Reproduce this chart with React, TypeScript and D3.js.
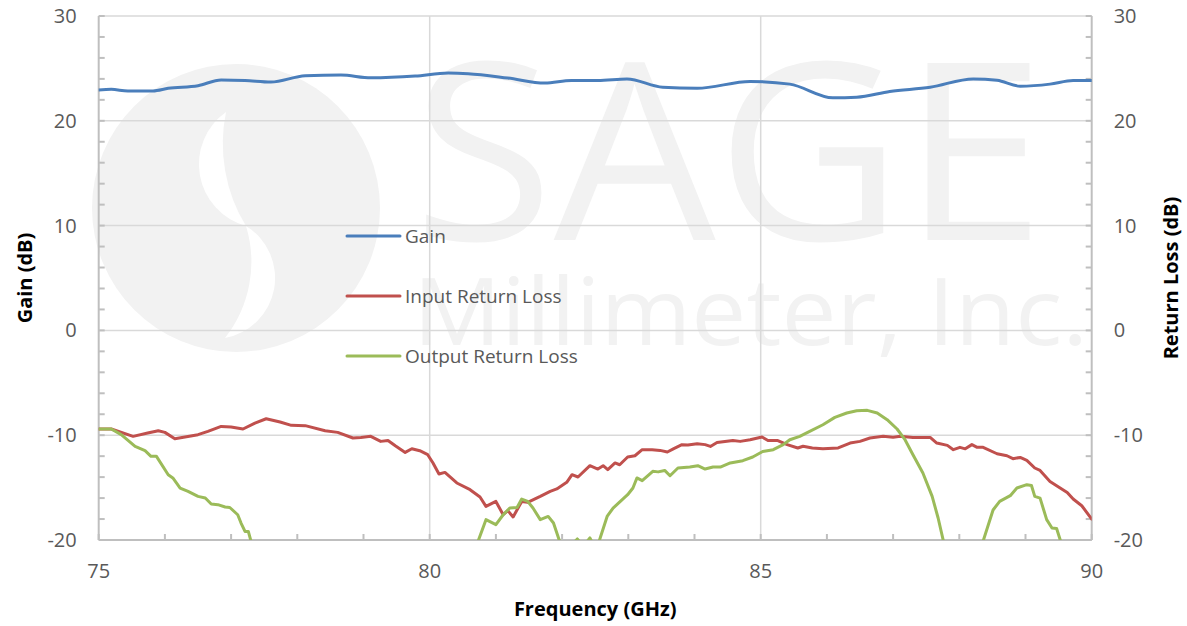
import React from 'react';
import * as d3 from 'd3';

// ---- data ----
const gainFreq = [75.0, 75.19, 75.44, 75.82, 76.05, 76.5, 76.85, 77.21, 77.6, 78.12, 78.66, 79.11, 79.78, 80.28, 80.58, 81.18, 81.74, 82.14, 82.54, 82.98, 83.52, 84.04, 84.84, 85.44, 86.09, 86.45, 86.95, 87.56, 88.21, 88.57, 88.92, 89.37, 89.72, 90.0];
const gainDb = [22.95, 23.0, 22.85, 22.85, 23.1, 23.35, 23.9, 23.85, 23.7, 24.3, 24.37, 24.1, 24.27, 24.56, 24.5, 24.08, 23.6, 23.85, 23.85, 23.99, 23.2, 23.1, 23.76, 23.5, 22.2, 22.25, 22.8, 23.2, 24.0, 23.86, 23.3, 23.5, 23.85, 23.85];

const irlFreq = [75.0, 75.19, 75.52, 75.74, 75.9, 76.0, 76.15, 76.5, 76.65, 76.85, 77.0, 77.18, 77.36, 77.53, 77.74, 77.91, 78.12, 78.42, 78.61, 78.84, 78.96, 79.11, 79.26, 79.37, 79.48, 79.63, 79.73, 79.85, 79.97, 80.05, 80.14, 80.23, 80.41, 80.61, 80.76, 80.85, 81.0, 81.11, 81.18, 81.26, 81.39, 81.48, 81.67, 81.82, 81.92, 82.07, 82.15, 82.24, 82.42, 82.54, 82.62, 82.69, 82.8, 82.87, 82.99, 83.1, 83.21, 83.36, 83.48, 83.59, 83.68, 83.81, 83.9, 84.04, 84.16, 84.24, 84.34, 84.58, 84.69, 84.84, 85.02, 85.11, 85.25, 85.4, 85.56, 85.64, 85.78, 85.94, 86.17, 86.35, 86.5, 86.65, 86.85, 87.0, 87.11, 87.3, 87.56, 87.66, 87.82, 87.91, 88.01, 88.09, 88.19, 88.27, 88.36, 88.57, 88.72, 88.81, 88.92, 89.02, 89.14, 89.22, 89.37, 89.47, 89.63, 89.72, 89.85, 90.0];
const irlDb = [-9.41, -9.41, -10.11, -9.79, -9.57, -9.73, -10.33, -9.95, -9.64, -9.16, -9.22, -9.41, -8.84, -8.43, -8.74, -9.06, -9.09, -9.57, -9.73, -10.27, -10.21, -10.11, -10.59, -10.5, -11.0, -11.64, -11.29, -11.48, -11.86, -12.65, -13.7, -13.55, -14.56, -15.2, -15.9, -16.79, -16.32, -17.59, -17.2, -17.8, -16.32, -16.41, -15.84, -15.36, -15.13, -14.5, -13.77, -13.99, -12.91, -13.23, -12.91, -13.29, -12.65, -12.82, -12.08, -11.96, -11.38, -11.38, -11.45, -11.6, -11.3, -10.9, -10.94, -10.81, -10.9, -11.07, -10.69, -10.5, -10.59, -10.43, -10.17, -10.5, -10.5, -10.9, -11.22, -11.05, -11.22, -11.29, -11.22, -10.75, -10.59, -10.27, -10.11, -10.2, -10.11, -10.21, -10.21, -10.75, -10.97, -11.38, -11.16, -11.3, -10.9, -11.16, -11.16, -11.77, -11.96, -12.24, -12.12, -12.4, -13.13, -13.36, -14.41, -14.82, -15.46, -16.09, -16.73, -18.0];

const orlFreq = [75.0, 75.19, 75.34, 75.55, 75.7, 75.79, 75.87, 76.05, 76.12, 76.23, 76.35, 76.5, 76.61, 76.7, 76.8, 76.91, 76.98, 77.1, 77.15, 77.21, 77.26, 77.3, 77.44, 78.5, 79.5, 80.3, 80.56, 80.72, 80.85, 81.0, 81.11, 81.21, 81.32, 81.39, 81.48, 81.56, 81.67, 81.79, 81.87, 81.97, 82.06, 82.23, 82.32, 82.42, 82.5, 82.55, 82.68, 82.77, 82.99, 83.07, 83.13, 83.21, 83.37, 83.45, 83.55, 83.63, 83.75, 83.93, 84.05, 84.16, 84.28, 84.39, 84.54, 84.73, 84.88, 85.03, 85.19, 85.34, 85.44, 85.59, 85.74, 85.94, 86.12, 86.3, 86.45, 86.61, 86.76, 86.91, 87.06, 87.18, 87.3, 87.45, 87.59, 87.68, 87.76, 87.86, 88.1, 88.36, 88.51, 88.61, 88.77, 88.87, 89.02, 89.09, 89.14, 89.22, 89.32, 89.4, 89.47, 89.53, 89.6, 90.0];
const orlDb = [-9.41, -9.41, -9.95, -11.07, -11.48, -12.02, -12.0, -13.77, -14.08, -15.04, -15.36, -15.84, -15.99, -16.57, -16.63, -16.85, -16.9, -17.59, -18.38, -19.18, -19.18, -20.1, -22, -24, -23, -21.5, -20.3, -20.3, -18.06, -18.54, -17.59, -16.95, -16.9, -16.09, -16.32, -16.95, -18.06, -17.75, -18.38, -20.26, -21, -19.9, -20.6, -19.8, -20.8, -20.3, -17.75, -16.95, -15.68, -15.04, -14.08, -14.34, -13.45, -13.5, -13.36, -13.87, -13.13, -13.04, -12.91, -13.23, -13.04, -13.04, -12.65, -12.43, -12.08, -11.55, -11.38, -10.9, -10.43, -10.11, -9.64, -9.0, -8.3, -7.88, -7.66, -7.63, -7.88, -8.52, -9.41, -10.43, -11.86, -13.61, -15.84, -17.9, -20.1, -22, -23, -20.1, -17.14, -16.32, -15.77, -15.04, -14.72, -14.8, -15.84, -16.0, -18.06, -18.86, -18.9, -20.1, -22, -24];

const seriesNames = ['Gain', 'Input Return Loss', 'Output Return Loss'];
const seriesColors = ['#4a7ebb', '#c0504d', '#9bbb59'];

const xTicks = [75, 80, 85, 90];
const yTicks = [-20, -10, 0, 10, 20, 30];

const W = 1187, H = 626;
const FONT = '"Open Sans", "Noto Sans", sans-serif';

export default function App() {
  const x = d3.scaleLinear().domain([75, 90]).range([98.7, 1091.7]);
  const y = d3.scaleLinear().domain([-20, 30]).range([540, 16]);
  const [x0, x1] = x.range();
  const [yB, yT] = y.range();

  const smooth = d3.line<[number, number]>().x(d => x(d[0])).y(d => y(d[1])).curve(d3.curveMonotoneX);
  const straight = d3.line<[number, number]>().x(d => x(d[0])).y(d => y(d[1]));

  const gain = d3.zip(gainFreq, gainDb) as [number, number][];
  const irl = d3.zip(irlFreq, irlDb) as [number, number][];
  const orl = d3.zip(orlFreq, orlDb) as [number, number][];

  const minorY = d3.range(-20, 30.1, 2);
  const minorX = d3.range(75, 90.1, 1);

  const legendX = 347, legendY = 236, legendGap = 60;

  return (
    <svg width={W} height={H} style={{ position: 'absolute', left: 0, top: 0, background: '#fff' }}>
      <defs>
        <clipPath id="plot">
          <rect x={x0} y={yT} width={x1 - x0} height={yB - yT} />
        </clipPath>
      </defs>

      {/* watermark */}
      <g fill="#f2f2f2">
        <circle cx={236} cy={208} r={144} />
        <path d="M 226 112 A 64 64 0 0 0 246 226 A 158 158 0 0 1 226 112 Z" fill="#fff" />
        <path d="M 246 226 A 61 61 0 0 1 225 338 A 123 123 0 0 0 246 226 Z" fill="#fff" />
        <text x={413} y={240} fontFamily={FONT} fontSize={248} textLength={632} lengthAdjust="spacingAndGlyphs">SAGE</text>
        <text x={413} y={345} fontFamily={FONT} fontSize={94} textLength={675} lengthAdjust="spacingAndGlyphs">Millimeter, Inc.</text>
      </g>

      {/* grid */}
      <g stroke="#d9d9d9" strokeWidth={1.5}>
        {yTicks.filter(t => t > -20).map(t => (
          <line key={'gy' + t} x1={x0} x2={x1} y1={y(t)} y2={y(t)} />
        ))}
        {xTicks.filter(t => t > 75 && t < 90).map(t => (
          <line key={'gx' + t} x1={x(t)} x2={x(t)} y1={yT} y2={yB} />
        ))}
      </g>

      {/* axes */}
      <g stroke="#bfbfbf" strokeWidth={2}>
        <line x1={x0} x2={x0} y1={yT} y2={yB} />
        <line x1={x1} x2={x1} y1={yT} y2={yB} />
        <line x1={x0} x2={x1} y1={yB} y2={yB} />
        {minorY.map(t => (
          <g key={'ty' + t}>
            <line x1={x0} x2={x0 + 6} y1={y(t)} y2={y(t)} />
            <line x1={x1} x2={x1 - 6} y1={y(t)} y2={y(t)} />
          </g>
        ))}
        {minorX.map(t => (
          <line key={'tx' + t} x1={x(t)} x2={x(t)} y1={yB} y2={yB - 6} />
        ))}
      </g>

      {/* tick labels */}
      <g fontFamily={FONT} fontSize={20} fill="#595959">
        {yTicks.map(t => (
          <text key={'ly' + t} x={x0 - 22} y={y(t)} dy="0.35em" textAnchor="end">{t}</text>
        ))}
        {yTicks.map(t => (
          <text key={'ry' + t} x={x1 + 22} y={y(t)} dy="0.35em" textAnchor="start">{t}</text>
        ))}
        {xTicks.map(t => (
          <text key={'lx' + t} x={x(t)} y={yB + 31} dy="0.35em" textAnchor="middle">{t}</text>
        ))}
      </g>

      {/* titles */}
      <g fontFamily={FONT} fontSize={20} fontWeight="bold" fill="#000">
        <text x={(x0 + x1) / 2} y={616} textAnchor="middle">Frequency (GHz)</text>
        <text transform={`translate(32,${(yT + yB) / 2}) rotate(-90)`} textAnchor="middle">Gain (dB)</text>
        <text transform={`translate(1178,${(yT + yB) / 2}) rotate(-90)`} textAnchor="middle">Return Loss (dB)</text>
      </g>

      {/* series */}
      <g clipPath="url(#plot)" fill="none" strokeWidth={3} strokeLinejoin="round" strokeLinecap="round">
        <path d={smooth(gain) || ''} stroke={seriesColors[0]} />
        <path d={straight(irl) || ''} stroke={seriesColors[1]} />
        <path d={straight(orl) || ''} stroke={seriesColors[2]} />
      </g>

      {/* legend */}
      <g fontFamily={FONT} fontSize={19} fill="#595959">
        {seriesNames.map((n, i) => (
          <g key={n} transform={`translate(${legendX},${legendY + i * legendGap})`}>
            <line x1={0} x2={53} y1={0} y2={0} stroke={seriesColors[i]} strokeWidth={3} strokeLinecap="round" />
            <text x={58} y={0} dy="0.35em">{n}</text>
          </g>
        ))}
      </g>
    </svg>
  );
}
